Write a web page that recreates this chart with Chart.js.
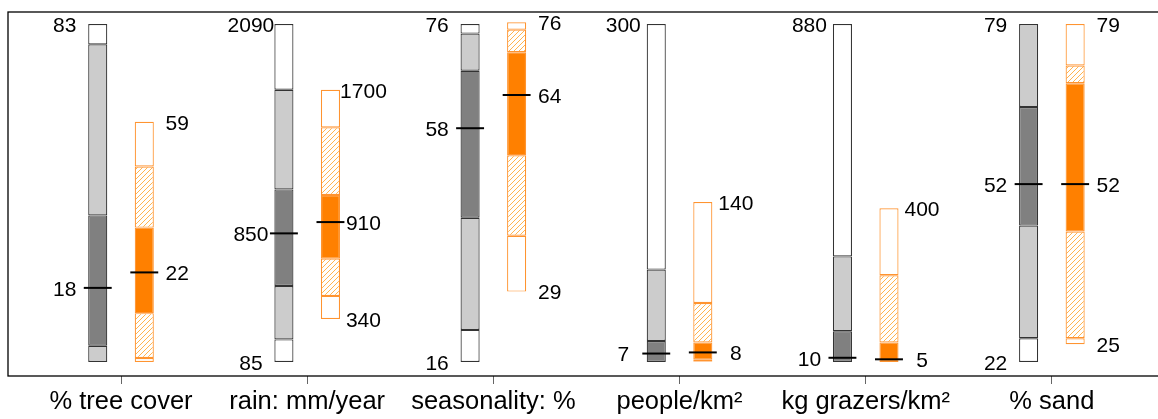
<!DOCTYPE html>
<html>
<head>
<meta charset="utf-8">
<script src="https://cdn.jsdelivr.net/npm/chart.js@4.4.1/dist/chart.umd.min.js"></script>
<style>
  body { margin: 0; background: #fff; }
  #wrap { width: 1158px; height: 419px; }
</style>
</head>
<body>
<div id="wrap"><canvas id="range-chart"></canvas></div>
<script>
var categories = ["% tree cover", "rain: mm/year", "seasonality: %", "people/km²", "kg grazers/km²", "% sand"];

// quantile breaks per variable: min, low, q25, q75, high, max
var grayTree = [0, 0, 4, 36, 78, 83];
var grayRain = [85, 219, 536, 1109, 1700, 2090];
var graySeason = [16, 21.7, 41.6, 67.7, 74.3, 76];
var grayPeople = [0, 0, 0, 18.6, 82, 300];
var grayGrazers = [0, 0, 0, 80, 275, 880];
var graySand = [22, 26, 45, 65, 79, 79];

var orangeTree = [0, 1, 12, 33, 48, 59];
var orangeRain = [340, 477, 698, 1076, 1477, 1700];
var orangeSeason = [28.5, 38.4, 52.7, 71, 75, 76.3];
var orangePeople = [0, 0.5, 2, 17.4, 52.4, 142];
var orangeGrazers = [0, 0, 0, 51, 226, 400];
var orangeSand = [25, 26, 44, 69, 72, 79];

var grayMedians = [18.2, 848, 57.5, 7.5, 11, 52];
var orangeMedians = [22, 915, 63.4, 8.5, 7, 52];

// number labels as printed
var grayTopText = ["83", "2090", "76", "300", "880", "79"];
var grayMidText = ["18", "850", "58", "7", "10", "52"];
var grayLowText = ["", "85", "16", "", "", "22"];
var orangeTopText = ["59", "1700", "76", "140", "400", "79"];
var orangeMidText = ["22", "910", "64", "8", "5", "52"];
var orangeLowText = ["", "340", "29", "", "", "25"];

var grayData = [grayTree, grayRain, graySeason, grayPeople, grayGrazers, graySand];
var orangeData = [orangeTree, orangeRain, orangeSeason, orangePeople, orangeGrazers, orangeSand];

function makeHatch() {
  var c = document.createElement("canvas");
  c.width = 5; c.height = 5;
  var g = c.getContext("2d");
  g.fillStyle = "#ffffff";
  g.fillRect(0, 0, 5, 5);
  g.strokeStyle = "#ffb450";
  g.lineWidth = 1;
  g.beginPath();
  g.moveTo(0, 5); g.lineTo(5, 0);
  g.moveTo(-1, 1); g.lineTo(1, -1);
  g.moveTo(4, 6); g.lineTo(6, 4);
  g.stroke();
  return g.createPattern(c, "repeat");
}

var hatch = makeHatch();
var grayFills = ["#ffffff", "#cccccc", "#808080", "#cccccc", "#ffffff"];
var orangeFills = ["#ffffff", hatch, "#ff8000", hatch, "#ffffff"];

var datasets = [];
var scales = {};

for (var i = 0; i < categories.length; i++) {
  var g = grayData[i], o = orangeData[i];
  var span = g[5] - g[0];
  scales["y" + i] = {
    type: "linear",
    display: false,
    stacked: false,
    min: g[0] - span * 14 / 338,
    max: g[5] + span * 12 / 338
  };

  // median ticks first so they are drawn on top
  datasets.push({ role: "gmed", panel: i, stack: "g", order: 0, yAxisID: "y" + i,
    data: [{ x: i, y: [grayMedians[i], grayMedians[i]] }],
    base: grayMedians[i], minBarLength: 2, backgroundColor: "#000", borderWidth: 0,
    barPercentage: 0.6, categoryPercentage: 0.5 });
  datasets.push({ role: "omed", panel: i, stack: "o", order: 0, yAxisID: "y" + i,
    data: [{ x: i, y: [orangeMedians[i], orangeMedians[i]] }],
    base: orangeMedians[i], minBarLength: 2, backgroundColor: "#000", borderWidth: 0,
    barPercentage: 0.6, categoryPercentage: 0.5 });

  for (var k = 0; k < 5; k++) {
    datasets.push({ stack: "g", order: 1, yAxisID: "y" + i,
      data: [{ x: i, y: [g[k], g[k + 1]] }],
      backgroundColor: grayFills[k], borderColor: "#333333", borderWidth: 1.2,
      borderSkipped: false, barPercentage: 0.41, categoryPercentage: 0.5 });
    datasets.push({ stack: "o", order: 1, yAxisID: "y" + i,
      data: [{ x: i, y: [o[k], o[k + 1]] }],
      backgroundColor: orangeFills[k], borderColor: "#ff9430", borderWidth: 1.2,
      borderSkipped: false, barPercentage: 0.41, categoryPercentage: 0.5 });
  }
}

scales.x = {
  type: "linear",
  min: -0.607,
  max: 5.57,
  offset: false,
  afterBuildTicks: function(scale) {
    scale.ticks = categories.map(function(c, idx) { return { value: idx }; });
  },
  afterFit: function(scale) { scale.height = 43; },
  grid: { offset: false, drawOnChartArea: false, drawTicks: true, tickLength: 8, color: "#666" },
  border: { display: false },
  ticks: {
    callback: function(v) { return categories[v]; },
    font: { family: "Liberation Sans", size: 25.5 },
    color: "#000",
    padding: 3,
    maxRotation: 0,
    autoSkip: false
  }
};

var framePlugin = {
  id: "frame",
  afterDraw: function(chart) {
    var a = chart.chartArea, ctx = chart.ctx;
    ctx.save();
    ctx.strokeStyle = "#000";
    ctx.lineWidth = 1.3;
    ctx.strokeRect(a.left, a.top, a.right - a.left + 4, a.bottom - a.top);
    ctx.restore();
  }
};

var numberPlugin = {
  id: "numbers",
  afterDatasetsDraw: function(chart) {
    var ctx = chart.ctx;
    ctx.save();
    ctx.font = "21px 'Liberation Sans'";
    ctx.fillStyle = "#000";
    ctx.textAlign = "center";
    ctx.textBaseline = "middle";
    chart.data.datasets.forEach(function(ds, idx) {
      if (!ds.role) return;
      var el = chart.getDatasetMeta(idx).data[0];
      var ys = chart.scales["y" + ds.panel];
      var p = ds.panel, vals, texts, x;
      if (ds.role === "gmed") {
        vals = grayData[p]; x = el.x - 33;
        texts = [grayLowText[p], grayMidText[p], grayTopText[p]];
      } else {
        vals = orangeData[p]; x = el.x + 33;
        texts = [orangeLowText[p], orangeMidText[p], orangeTopText[p]];
      }
      var at = [vals[0], ds.base, vals[5]];
      for (var j = 0; j < 3; j++) {
        if (texts[j]) ctx.fillText(texts[j], x, ys.getPixelForValue(at[j]) + 2);
      }
    });
    ctx.restore();
  }
};

var rangeChart = new Chart(document.getElementById("range-chart"), {
  type: "bar",
  data: { datasets: datasets },
  options: {
    responsive: true,
    maintainAspectRatio: false,
    animation: false,
    layout: { padding: { left: 8, top: 12, right: 0, bottom: 0 } },
    plugins: { legend: { display: false }, tooltip: { enabled: false } },
    scales: scales
  },
  plugins: [framePlugin, numberPlugin]
});
</script>
</body>
</html>
